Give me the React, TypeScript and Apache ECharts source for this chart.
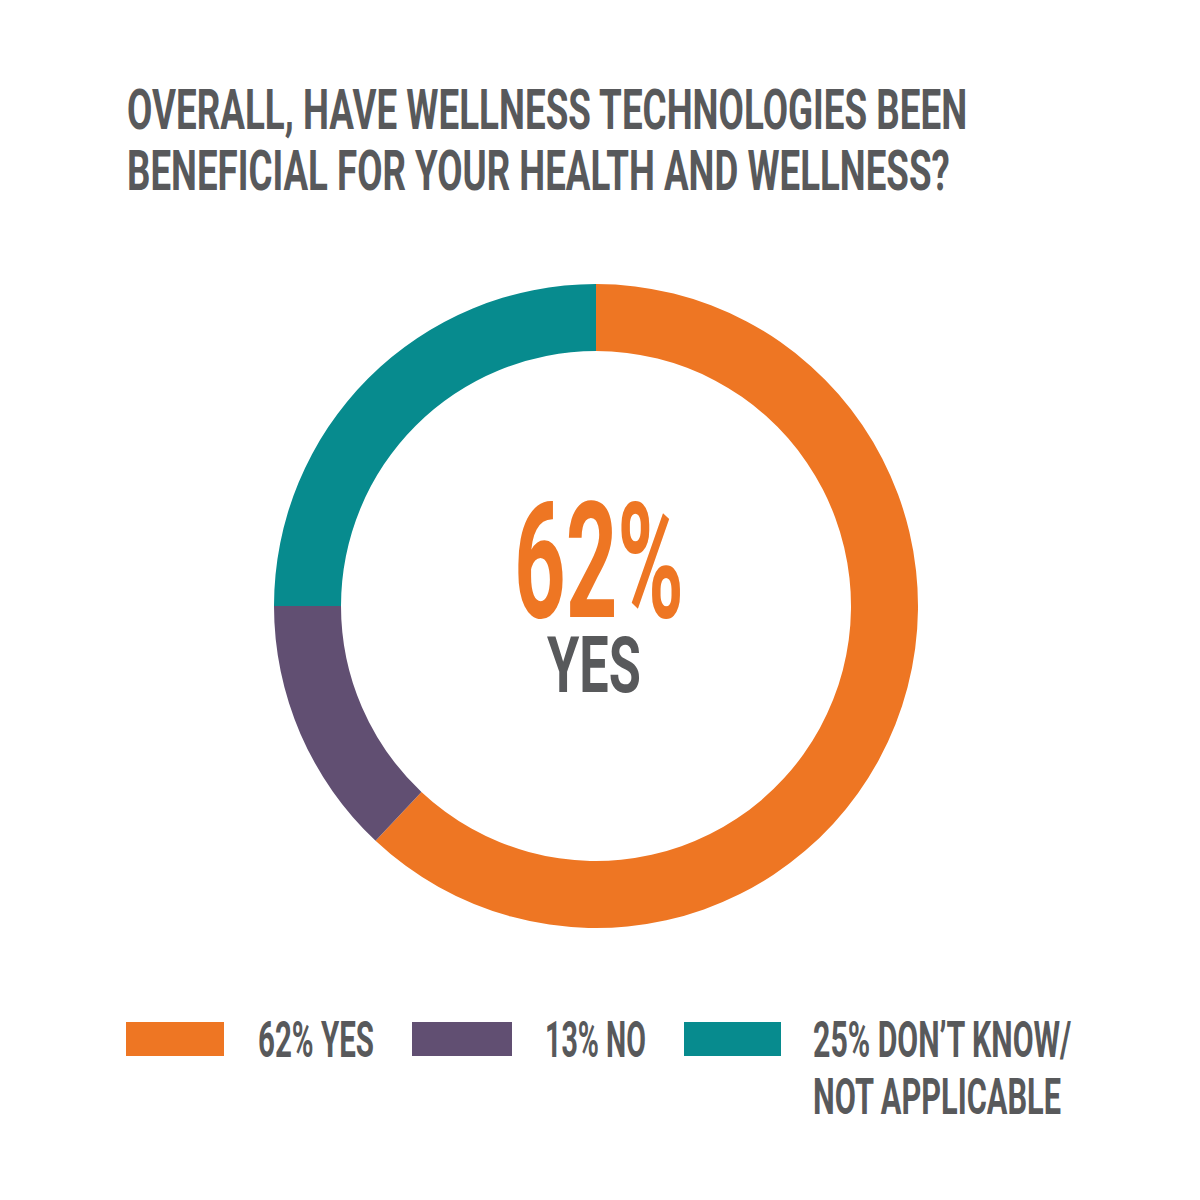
import React, { useEffect, useRef } from "react";
import * as echarts from "echarts";

const categories = ["YES", "NO", "DON’T KNOW/ NOT APPLICABLE"];
const values = [62, 13, 25];
const colors = ["#EE7623", "#614F72", "#078B8E"];
const legendLines = [["62% YES"], ["13% NO"], ["25% DON’T KNOW/", "NOT APPLICABLE"]];
const titleLines = [
  "OVERALL, HAVE WELLNESS TECHNOLOGIES BEEN",
  "BENEFICIAL FOR YOUR HEALTH AND WELLNESS?",
];
const centerValue = "62%";
const centerLabel = "YES";

const GRAY = "#58595B";
const FAMILY = 'Roboto, "DejaVu Sans Condensed", sans-serif';
const WEIGHT = "bold";

let measureCtx: CanvasRenderingContext2D | null = null;
function measure(text: string, size: number): number {
  if (!measureCtx) {
    const c = document.createElement("canvas");
    measureCtx = c.getContext("2d");
  }
  if (!measureCtx) return text.length * size * 0.5;
  measureCtx.font = `${WEIGHT} ${size}px ${FAMILY}`;
  return measureCtx.measureText(text).width;
}

function fitText(text: string, x: number, y: number, size: number, width: number, fill: string) {
  const w = measure(text, size);
  return {
    type: "text",
    x,
    y,
    scaleX: width / w,
    silent: true,
    style: {
      text,
      fill,
      fontSize: size,
      fontWeight: WEIGHT,
      fontFamily: FAMILY,
      textAlign: "left",
      textVerticalAlign: "middle",
      align: "left",
      verticalAlign: "middle",
    },
  };
}

export default function App() {
  const ref = useRef<HTMLDivElement>(null);
  useEffect(() => {
    if (!ref.current) return;
    const chart = echarts.init(ref.current, undefined, { renderer: "svg" });

    const titleWidths = [841, 823];
    const titleY = [110, 171];
    const legendX = [258, 545, 813];
    const legendBoxX = [126, 412, 684];
    const legendBoxW = [98, 100, 97];
    const legendWidths = [[116], [101], [259, 249]];

    const graphics: any[] = [];
    titleLines.forEach((t, i) => {
      graphics.push(fitText(t, 127, titleY[i], 56, titleWidths[i], GRAY));
    });
    graphics.push(fitText(centerValue, 514, 561, 162, 170, colors[0]));
    graphics.push(fitText(centerLabel, 547, 665, 78, 94, GRAY));
    legendLines.forEach((lines, i) => {
      graphics.push({
        type: "rect",
        silent: true,
        shape: { x: legendBoxX[i], y: 1022, width: legendBoxW[i], height: 34 },
        style: { fill: colors[i] },
      });
      lines.forEach((ln, j) => {
        graphics.push(fitText(ln, legendX[i], 1040 + j * 57, 50, legendWidths[i][j], GRAY));
      });
    });

    chart.setOption({
      animation: false,
      backgroundColor: "#ffffff",
      graphic: graphics,
      series: [
        {
          type: "pie",
          center: [596, 606],
          radius: [255, 322],
          startAngle: 90,
          clockwise: true,
          silent: true,
          label: { show: false },
          labelLine: { show: false },
          emphasis: { disabled: true },
          itemStyle: { borderWidth: 0 },
          data: categories.map((c, i) => ({
            name: c,
            value: values[i],
            itemStyle: { color: colors[i] },
          })),
        },
      ],
    });
    return () => chart.dispose();
  }, []);
  return (
    <div
      ref={ref}
      style={{ position: "fixed", left: 0, top: 0, width: 1200, height: 1200, background: "#fff" }}
    />
  );
}
